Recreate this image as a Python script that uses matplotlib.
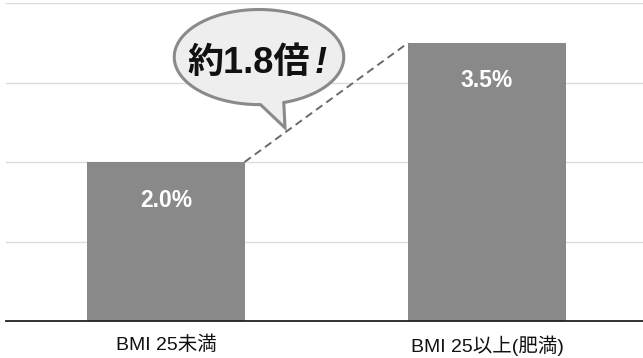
import numpy as np
import matplotlib
matplotlib.use("Agg")
import matplotlib.pyplot as plt
from matplotlib.patches import Polygon

plt.rcParams['font.family'] = ['Liberation Sans', 'Noto Sans CJK JP', 'DejaVu Sans']

categories = ["BMI 25未満", "BMI 25以上(肥満)"]
values = [2.0, 3.5]
value_labels = ["2.0%", "3.5%"]
ratio_text = "約1.8倍"

fig = plt.figure(figsize=(6.43, 3.58), dpi=100)
ax = fig.add_axes([6 / 643, 37 / 358, 637 / 643, 318 / 358])

x = np.arange(len(categories))
bar_w = 0.49
ax.bar(x, values, width=bar_w, color="#898989", zorder=2)

ax.set_xlim(-0.498, 1.486)
ax.set_ylim(0, 4)
ax.set_yticks([1, 2, 3, 4])
ax.yaxis.grid(True, color="#dcdcdc", linewidth=1)
ax.set_axisbelow(True)
ax.tick_params(axis="y", left=False, labelleft=False)
ax.tick_params(axis="x", length=0, pad=10.5)
ax.set_xticks(x)
ax.set_xticklabels(categories, fontsize=14, color="#111111")
for side in ("top", "left", "right"):
    ax.spines[side].set_visible(False)
ax.spines["bottom"].set_color("#222222")
ax.spines["bottom"].set_linewidth(1.3)
ax.spines["bottom"].set_zorder(3)

# value labels inside the bars
for xi, v, lab in zip(x, values, value_labels):
    ax.text(xi, v - 0.48, lab, ha="center", va="center", color="white",
            fontsize=16.5, fontweight="bold", zorder=4)

# dashed connector between bar tops
ax.plot([x[0] + bar_w / 2, x[1] - bar_w / 2], [values[0], values[1]],
        linestyle=(0, (4, 2.5)), color="#6a6a6a", linewidth=1.4, zorder=3)

# speech bubble
cx, cy, a, b = 0.29, 3.32, 0.264, 0.598
t = np.deg2rad(np.linspace(-73, 271, 200))
pts = np.column_stack([cx + a * np.cos(t), cy + b * np.sin(t)])
tip = np.array([[0.371, 2.43]])
pts = np.vstack([pts, tip])
bubble = Polygon(pts, closed=True, facecolor="#eeeeee", edgecolor="#8a8a8a",
                 linewidth=2.2, zorder=5, joinstyle="miter")
ax.add_patch(bubble)
main = ax.text(0.258, 3.245, ratio_text, ha="center", va="center",
               fontsize=26, fontweight="bold", color="#111111", zorder=6)
ax.annotate("!", xy=(1, 0.5), xycoords=main, xytext=(3, 0),
            textcoords="offset points", ha="left", va="center",
            fontsize=26, fontweight="bold", fontstyle="italic",
            color="#111111", zorder=6)

fig.savefig("out.png", dpi=100)
